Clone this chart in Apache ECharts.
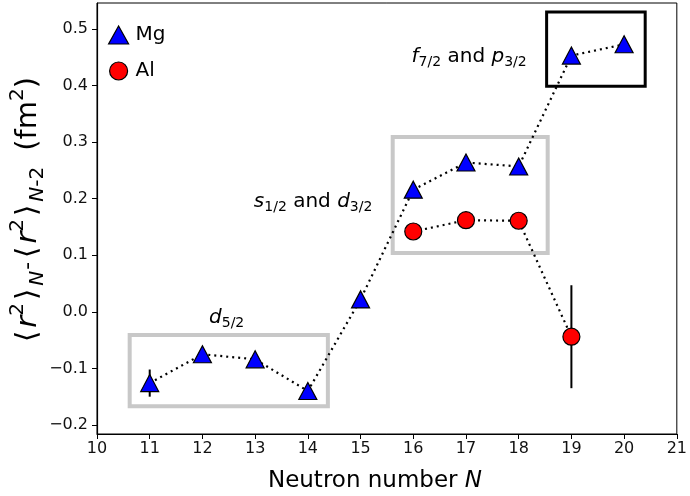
<!DOCTYPE html>
<html>
<head>
<meta charset="utf-8">
<script src="https://cdn.jsdelivr.net/npm/echarts@6/dist/echarts.min.js"></script>
<style>html,body{margin:0;padding:0;background:#fff}#c{width:690px;height:496px}</style>
</head>
<body>
<div id="c"></div>
<script>
// ---- data ----
const mgN = [11, 12, 13, 14, 15, 16, 17, 18, 19, 20];
const mgVal = [-0.126, -0.075, -0.084, -0.140, 0.022, 0.216, 0.264, 0.257, 0.453, 0.473];
const mgErr = [0.024, 0.004, 0.004, 0.004, 0.004, 0.004, 0.004, 0.004, 0.004, 0.004];
const alN = [16, 17, 18, 19];
const alVal = [0.142, 0.162, 0.161, -0.044];
const alErr = [0.004, 0.008, 0.006, 0.091];
const yTicks = [-0.2, -0.1, 0.0, 0.1, 0.2, 0.3, 0.4, 0.5];
// shell boxes [x0, x1, y0, y1] in data units
const grayBoxes = [[10.62, 14.38, -0.167, -0.041], [15.61, 18.55, 0.104, 0.309]];
const blackBoxes = [[18.53, 20.40, 0.399, 0.530]];
// annotation anchors [x, y, label]
const notes = [
  [12.46, -0.010, '{i|d}{s|5/2}'],
  [14.10, 0.195, '{i|s}{s|1/2}{t| and }{i|d}{s|3/2}'],
  [17.06, 0.451, '{i|f}{s|7/2}{t| and }{i|p}{s|3/2}']
];

const FONT = 'DejaVu Sans';
const chart = echarts.init(document.getElementById('c'), null, {renderer: 'canvas'});

function errSeries(xs, ys, es) {
  return {
    type: 'custom', z: 1, silent: true,
    data: xs.map((x, i) => [x, ys[i] - es[i], ys[i] + es[i]]),
    renderItem: function (params, api) {
      const a = api.coord([api.value(0), api.value(1)]);
      const b = api.coord([api.value(0), api.value(2)]);
      return {type: 'line', shape: {x1: a[0], y1: a[1], x2: b[0], y2: b[1]},
        style: {stroke: '#000', lineWidth: 2}};
    }
  };
}
function boxSeries(boxes, color, width) {
  return {
    type: 'custom', z: 0, silent: true,
    data: boxes,
    renderItem: function (params, api) {
      const p0 = api.coord([api.value(0), api.value(3)]);
      const p1 = api.coord([api.value(1), api.value(2)]);
      return {type: 'rect', shape: {x: p0[0], y: p0[1], width: p1[0] - p0[0], height: p1[1] - p0[1]},
        style: {fill: null, stroke: color, lineWidth: width}};
    }
  };
}
const rich = {
  i: {fontFamily: FONT, fontStyle: 'italic', fontSize: 20, color: '#000', lineHeight: 26},
  t: {fontFamily: FONT, fontSize: 20, color: '#000', lineHeight: 26},
  s: {fontFamily: FONT, fontSize: 14, color: '#000', verticalAlign: 'bottom', lineHeight: 15}
};

const option = {
  animation: false,
  backgroundColor: '#fff',
  grid: {left: 97, right: 7, top: 3, bottom: 62, show: true, borderColor: '#000', borderWidth: 1, backgroundColor: 'transparent'},
  legend: {
    orient: 'vertical', left: 103, top: 20, itemWidth: 20, itemHeight: 18, itemGap: 16,
    textStyle: {fontFamily: FONT, fontSize: 20, color: '#000', padding: [0, 0, 0, 2]},
    data: [{name: 'Mg', icon: 'triangle'}, {name: 'Al', icon: 'circle'}],
    itemStyle: {borderColor: '#000', borderWidth: 1.2}
  },
  xAxis: {
    type: 'value', min: 10, max: 21, interval: 1,
    axisLine: {show: true, onZero: false, lineStyle: {color: '#000', width: 1.2}},
    axisTick: {show: true, length: 5, lineStyle: {color: '#000', width: 1}},
    axisLabel: {fontFamily: FONT, fontSize: 16, color: '#111', margin: 7},
    splitLine: {show: false}
  },
  yAxis: {
    type: 'value', min: -0.216, max: 0.546,
    axisLine: {show: true, onZero: false, lineStyle: {color: '#000', width: 1.2}},
    axisTick: {show: true, length: 5, lineStyle: {color: '#000', width: 1}, customValues: yTicks},
    axisLabel: {fontFamily: FONT, fontSize: 16, color: '#111', margin: 9, customValues: yTicks,
      formatter: v => (v < -1e-9 ? '\u2212' : '') + Math.abs(v).toFixed(1)},
    splitLine: {show: false}
  },
  graphic: [{
    type: 'text', x: 28, y: 211, rotation: Math.PI / 2, z: 10,
    style: {
      text: '{a|\u27E8}{i|r}{p|2}{a|\u27E9}{n|N}{m|-}{a|\u27E8}{i|r}{p|2}{a|\u27E9}{n|N}{b|-2}{c|(fm}{p|2}{e|)}',
      align: 'center', verticalAlign: 'middle',
      rich: {
        a: {fontFamily: FONT, fontSize: 29, color: '#000', lineHeight: 40, padding: [0, 3]},
        c: {fontFamily: FONT, fontSize: 29, color: '#000', lineHeight: 40, padding: [0, 0, 0, 16]},
        e: {fontFamily: FONT, fontSize: 29, color: '#000', lineHeight: 40},
        m: {fontFamily: FONT, fontSize: 22, color: '#000', lineHeight: 40, padding: [0, 1]},
        i: {fontFamily: FONT, fontSize: 29, fontStyle: 'italic', color: '#000', lineHeight: 40},
        p: {fontFamily: FONT, fontSize: 20, color: '#000', verticalAlign: 'top', lineHeight: 22},
        n: {fontFamily: FONT, fontSize: 20, fontStyle: 'italic', color: '#000', verticalAlign: 'bottom', lineHeight: 20},
        b: {fontFamily: FONT, fontSize: 20, color: '#000', verticalAlign: 'bottom', lineHeight: 20}
      }
    }
  }, {
    type: 'text', x: 375, y: 481, z: 10,
    style: {
      text: '{t|Neutron number }{i|N}', align: 'center', verticalAlign: 'middle',
      rich: {t: {fontFamily: FONT, fontSize: 23, color: '#111'}, i: {fontFamily: FONT, fontSize: 23, fontStyle: 'italic', color: '#111'}}
    }
  }],
  series: [
    boxSeries(grayBoxes, '#c8c8c8', 4),
    boxSeries(blackBoxes, '#000', 3),
    errSeries(mgN, mgVal, mgErr),
    errSeries(alN, alVal, alErr),
    {
      name: 'Mg', type: 'line', z: 3,
      data: mgN.map((x, i) => [x, mgVal[i]]),
      symbol: 'triangle', symbolSize: [18, 17],
      itemStyle: {color: '#0000ff', borderColor: '#000', borderWidth: 1.2},
      lineStyle: {color: '#000', width: 2.2, type: [2, 4]}
    },
    {
      name: 'Al', type: 'line', z: 3,
      data: alN.map((x, i) => [x, alVal[i]]),
      symbol: 'circle', symbolSize: 17,
      itemStyle: {color: '#ff0000', borderColor: '#000', borderWidth: 1.2},
      lineStyle: {color: '#000', width: 2.2, type: [2, 4]}
    },
    {
      type: 'custom', z: 5, silent: true,
      data: notes,
      renderItem: function (params, api) {
        const p = api.coord([api.value(0), api.value(1)]);
        return {type: 'text', x: p[0], y: p[1],
          style: {text: notes[params.dataIndex][2], align: 'center', verticalAlign: 'middle', rich: rich}};
      }
    }
  ]
};
chart.setOption(option);
</script>
</body>
</html>
